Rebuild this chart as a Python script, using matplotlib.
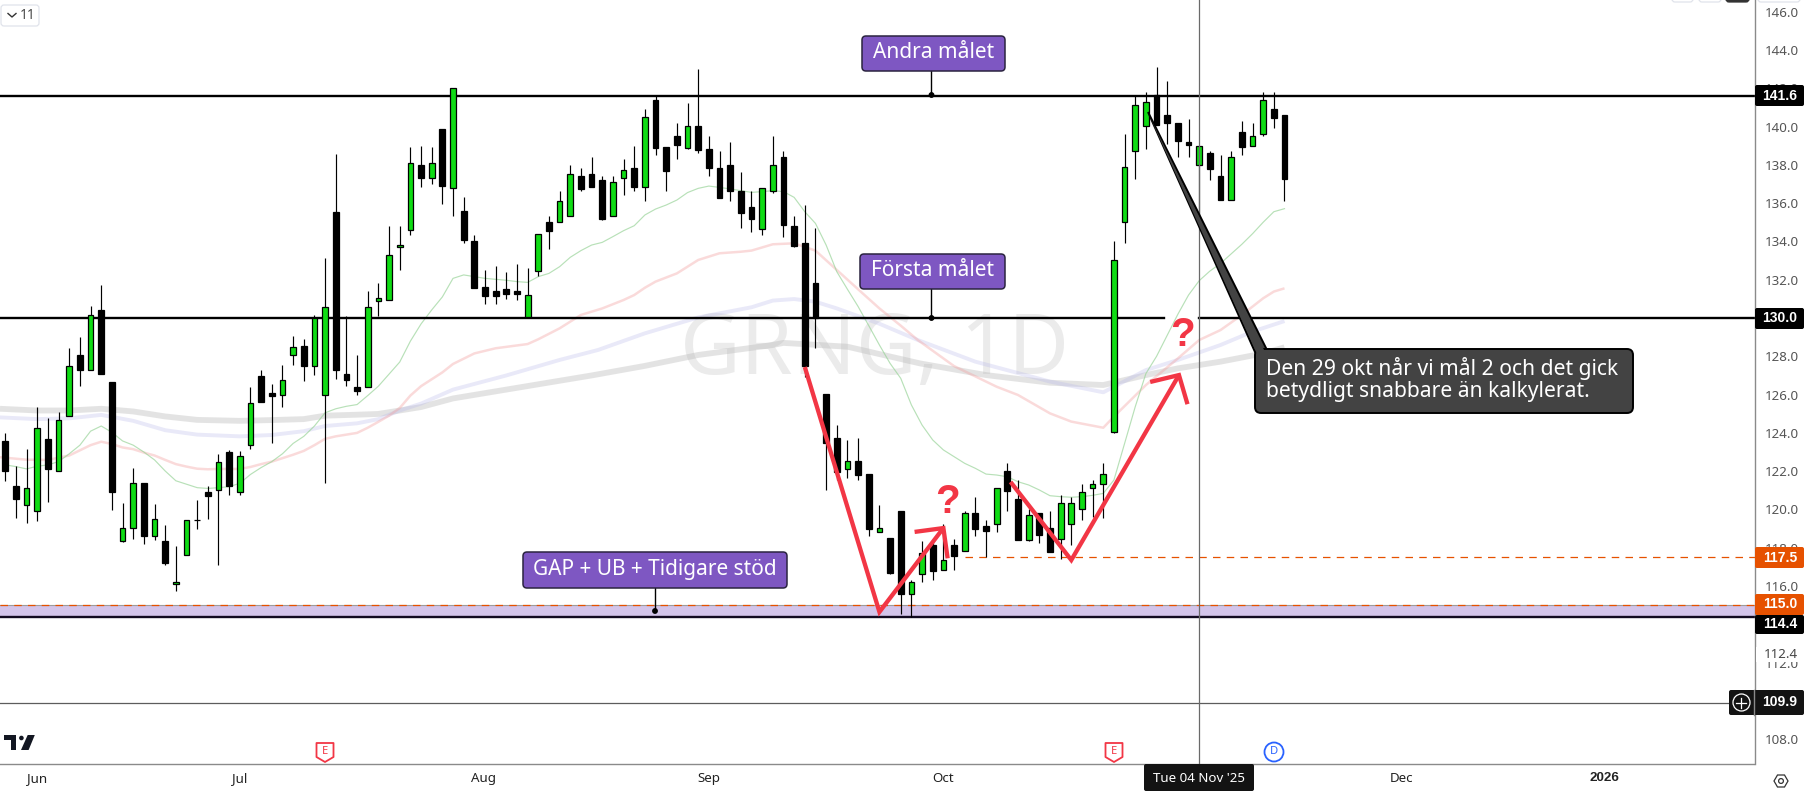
import matplotlib
matplotlib.use('Agg')
import matplotlib.pyplot as plt
from matplotlib.patches import FancyBboxPatch, Polygon, Circle, Rectangle

plt.rcParams['font.family'] = ['Noto Sans', 'DejaVu Sans']
BOLD = ['Liberation Sans', 'DejaVu Sans']

# daily candles, first one is index 0
opens = [123.58,121.25,120.25,119.93,123.67,122.03,124.86,128.08,127.29,130.40,
         126.67,118.35,119.04,121.37,118.63,118.37,116.09,117.63,119.43,120.92,
         121.03,122.98,120.92,123.35,126.98,126.09,125.97,128.07,128.52,127.49,
         125.97,135.55,127.09,126.40,126.38,130.90,130.96,133.69,134.57,137.99,
         137.31,139.86,136.77,135.59,134.02,131.62,131.41,131.51,131.41,130.07,
         132.47,135.01,135.00,135.31,137.42,137.52,137.21,135.31,137.29,137.83,
         136.86,141.38,138.93,139.50,138.88,140.03,138.83,137.83,137.99,136.63,
         135.80,134.66,136.65,138.41,134.80,133.92,131.83,126.03,123.73,122.10,
         122.53,121.85,118.81,118.51,119.92,115.60,116.61,118.15,116.82,118.15,
         117.82,119.82,119.14,119.23,122.01,120.55,118.41,119.82,119.03,118.44,
         119.23,120.01,121.11,121.31,124.03,135.00,138.70,140.01,141.64,140.58,
         140.17,139.17,137.97,138.60,137.42,136.18,139.71,138.96,139.59,140.91,140.58]
closes = [122.01,120.54,121.14,124.23,122.12,124.67,127.49,127.27,130.16,127.05,
          120.92,119.04,121.36,118.61,119.51,117.23,116.20,119.46,119.46,120.71,
          122.46,121.23,122.77,125.55,125.62,125.95,126.76,128.50,127.47,129.98,
          130.60,127.27,126.75,126.17,130.60,131.07,133.27,133.80,138.10,137.29,
          138.10,136.87,141.99,134.07,131.58,131.17,131.17,131.25,131.27,131.18,
          134.37,134.54,136.09,137.50,136.75,136.86,135.19,137.08,137.71,136.86,
          140.48,138.88,137.68,139.03,140.03,138.77,137.83,136.27,136.63,135.48,
          135.17,136.77,137.99,134.86,133.76,127.49,130.02,123.49,121.98,122.52,
          121.80,119.00,119.02,116.70,115.60,116.20,117.71,116.81,117.36,117.59,
          119.80,119.00,118.89,121.11,120.98,118.41,119.71,118.67,117.78,120.32,
          120.32,120.90,121.31,121.84,133.01,137.87,141.11,141.26,140.06,140.17,
          139.26,139.05,138.96,137.80,136.18,138.39,138.95,139.49,141.37,140.46,137.28]
highs = [124.00,122.26,123.15,125.35,124.77,125.10,128.41,128.99,130.61,131.72,
         126.67,120.36,122.15,121.37,120.27,119.17,118.07,119.46,120.47,121.25,
         122.89,123.13,123.06,126.40,127.31,126.56,127.56,129.08,128.88,130.18,
         133.13,138.54,130.09,128.08,131.39,131.81,134.81,134.81,138.95,139.00,
         138.95,139.86,141.99,136.32,134.33,132.51,132.72,132.40,132.82,132.61,
         134.37,135.33,136.63,137.99,137.83,138.41,137.42,137.42,138.30,138.98,
         140.90,141.64,138.93,140.18,141.23,143.00,139.50,138.72,139.19,137.62,
         136.63,136.77,139.50,138.72,135.33,135.90,134.70,126.03,124.41,123.63,
         123.73,121.85,120.23,118.51,119.92,116.32,118.35,118.35,119.24,118.46,
         119.91,120.65,119.45,121.11,122.43,121.54,120.03,119.82,119.92,120.76,
         120.65,121.33,121.54,122.43,134.02,139.61,141.65,141.78,143.11,142.38,
         140.17,140.39,138.96,138.72,138.51,138.72,140.29,140.18,141.78,141.78,140.58]
lows = [121.50,119.55,119.29,119.38,120.38,122.03,124.86,126.47,127.29,127.05,
        119.96,118.28,118.44,118.21,118.39,117.09,115.77,117.63,118.97,119.49,
        117.09,120.78,120.78,123.16,125.59,123.49,125.37,127.52,126.69,127.00,
        121.39,126.80,126.47,126.00,126.38,130.11,130.96,132.51,134.36,136.82,
        137.02,135.93,135.34,133.93,131.58,130.73,130.73,130.99,130.94,130.07,
        132.19,133.60,135.00,135.31,136.65,136.86,135.13,135.31,136.42,136.65,
        136.11,138.51,136.63,138.30,138.83,138.62,137.42,136.27,136.11,134.70,
        134.49,134.33,136.53,134.23,133.71,126.94,128.43,121.02,121.54,121.64,
        121.54,118.62,118.81,116.63,114.54,114.40,116.21,116.32,116.82,116.84,
        117.82,118.62,117.50,118.82,119.92,118.41,118.35,118.25,117.78,117.41,
        118.15,119.45,119.61,119.55,123.98,133.93,137.24,138.84,140.06,139.09,
        138.42,138.42,135.38,137.21,136.18,136.18,138.51,138.96,139.52,139.92,136.11]

ma_green = [122.33,122.24,122.12,122.26,122.33,122.50,122.91,123.36,124.09,124.36,
            124.03,123.58,123.36,123.00,122.59,122.01,121.50,121.32,121.14,121.10,
            121.14,121.19,121.37,121.83,122.19,122.50,122.91,123.45,123.82,124.36,
            125.05,125.26,125.39,125.48,125.95,126.44,127.07,127.70,128.79,129.69,
            130.42,131.10,132.07,132.25,132.16,132.07,132.02,131.97,131.90,131.86,
            132.16,132.33,132.68,133.17,133.52,133.81,133.95,134.25,134.56,134.82,
            135.38,135.69,135.90,136.16,136.55,136.77,136.89,136.82,136.74,136.65,
            136.56,136.60,136.65,136.60,136.30,135.55,134.94,133.81,132.42,131.50,
            130.60,129.60,128.59,127.63,126.85,125.46,124.41,123.63,123.11,122.76,
            122.41,122.15,121.85,121.80,121.71,121.45,121.28,121.02,120.72,120.67,
            120.64,120.67,120.74,120.84,121.54,123.45,125.37,127.10,128.00,129.10,
            130.20,131.20,131.95,132.45,132.85,133.35,133.85,134.40,135.00,135.55,135.71]
ma_red_x = [-0.5,2,4,6,7,8,9,10,11,12,13,14,15,16,17,18,19,20,22,23,24,25,26,27,28,29,30,31,32,33,
            34,35,36,37,38,39,40,41,42,44,46,49,50,52,54,56,58,59,60,61,63,65,67,69,70,72,74,76,78,
            80,82,84,85.6,89,93,95,98,100,103,104,107,110,112,114,116,118,119,120]
ma_red = [122.73,122.60,122.59,122.82,123.09,123.36,123.54,123.42,123.24,123.15,122.97,122.82,122.59,122.37,
          122.24,122.13,122.10,122.12,122.12,122.22,122.37,122.50,122.68,122.86,123.06,123.36,123.69,123.82,
          123.91,124.00,124.27,124.58,124.90,125.30,125.95,126.44,126.80,127.16,127.60,128.15,128.42,128.64,
          128.89,129.46,130.16,130.50,130.94,131.20,131.58,131.90,132.33,133.03,133.38,133.46,133.52,133.85,
          133.90,133.52,132.51,131.50,130.50,129.60,128.85,127.49,126.41,125.98,125.02,124.59,124.27,124.85,
          126.50,127.89,128.85,129.37,130.16,131.03,131.38,131.55]
ma_blue_x = [-0.5,3,6,9,12,15,18,22,25,28,30,33,35,37,39,42,47,52,55.6,60,65,70,72,74,76,78,82,85.6,91,98,103,107,110,114,117,120]
ma_blue = [124.81,124.72,124.76,124.94,124.63,124.14,123.91,123.82,123.89,124.09,124.36,124.50,124.72,125.17,
           125.53,126.26,127.00,127.81,128.33,129.20,130.03,130.56,130.91,130.99,130.85,130.50,129.70,128.85,
           127.72,126.68,126.12,127.28,127.81,128.59,129.29,129.84]
ma_grey_x = [-0.5,3,6,9,12,15,18,22,25,28,30,33,35,37,39,42,55,60,65,72,73,79,85.8,92,98,103,107,110,114,118,120]
ma_grey = [125.26,125.17,125.17,125.26,125.12,124.86,124.68,124.63,124.67,124.72,124.90,124.95,124.99,125.17,
           125.35,125.80,127.00,127.50,128.07,128.59,128.70,128.50,127.63,127.02,126.62,126.50,127.02,127.37,
           127.72,128.15,128.47]

price_ticks = [146,144,142,140,138,136,134,132,130,128,126,124,122,120,118,116,112,108]
month_ticks = [3,22,44.9,66,88,131,150]
month_labels = ['Jun','Jul','Aug','Sep','Oct','Dec','2026']

level_top = 141.6
level_mid = 130.0
zone_top = 115.0
zone_bot = 114.4
level_dash = 117.5
cross_price = 109.9
cross_day = 112

arrow1_x = [75.0,82.0,88.0]
arrow1_y = [127.44,114.65,119.03]
arrow1_hx = [85.3,88.0,88.4]
arrow1_hy = [118.83,119.03,117.45]
arrow2_x = [94.3,100.0,110.1]
arrow2_y = [121.44,117.36,127.02]
arrow2_hx = [107.4,110.1,110.9]
arrow2_hy = [126.66,127.02,125.5]

W, H = 1807, 794
fig = plt.figure(figsize=(W/100, H/100), dpi=100)
ax = fig.add_axes([0, 30/H, 1754.5/W, 764/H])
ax.set_xlim(-0.497, 164.09)
ax.set_ylim(106.71, 146.606)
ax.patch.set_alpha(0)

ax.yaxis.tick_right()
ax.set_yticks(price_ticks)
ax.set_yticklabels(['%.1f' % p for p in price_ticks], fontsize=9.6, color='#555555')
ax.tick_params(axis='y', length=0, pad=7.5)
ax.set_xticks(month_ticks)
ax.set_xticklabels(month_labels, fontsize=9.6, color='#222222')
ax.tick_params(axis='x', length=0, pad=5.5)
ax.get_xticklabels()[-1].set_fontweight('bold')
ax.get_xticklabels()[-1].set_family(BOLD)
for s in ['top', 'left']:
    ax.spines[s].set_visible(False)
for s in ['right', 'bottom']:
    ax.spines[s].set_color('#8a8a8a')
    ax.spines[s].set_linewidth(1)

# watermark
ax.text(81.5, 127.05, 'GRNG, 1D', fontsize=60, color='#ebebeb', ha='center', va='baseline', zorder=0.5)

# moving averages
ax.plot(ma_grey_x, ma_grey, color='#b4b4b4', lw=4.2, alpha=0.36, zorder=1, solid_capstyle='butt')
ax.plot(ma_blue_x, ma_blue, color='#b7b7ea', lw=2.8, alpha=0.3, zorder=1.1, solid_capstyle='butt')
ax.plot(ma_red_x, ma_red, color='#f2a0a0', lw=1.8, alpha=0.38, zorder=1.2, solid_capstyle='butt')
ax.plot(range(len(ma_green)), ma_green, color='#9ad49a', lw=0.85, alpha=0.7, zorder=1.3)

# levels
ax.axhspan(zone_bot, zone_top, color='#d3c4ea', lw=0, zorder=1.4)
ax.axhline(level_top, color='black', lw=1.7, zorder=1.5)
ax.plot([-1, 108.7], [level_mid, level_mid], color='black', lw=1.7, zorder=1.5)
ax.plot([cross_day, 170], [level_mid, level_mid], color='black', lw=1.7, zorder=1.5)
ax.axhline(zone_top, color='#9c9c9c', lw=0.8, zorder=1.5)
ax.axhline(zone_top, color='#e65100', lw=0.9, dashes=(6, 5), zorder=1.55)
ax.axhline(zone_bot, color='#120a20', lw=1.7, zorder=1.5)
ax.plot([90, 170], [level_dash, level_dash], color='#e65100', lw=0.9, dashes=(6, 5), zorder=1.5)

# candles
days = list(range(len(opens)))
ax.vlines(days, lows, highs, color='black', lw=0.85, zorder=2)
body_bot = [min(o, c) for o, c in zip(opens, closes)]
body_h = [abs(o - c) for o, c in zip(opens, closes)]
body_col = ['#0fdc14' if c >= o else 'black' for o, c in zip(opens, closes)]
ax.bar(days, body_h, bottom=body_bot, width=0.54, color=body_col, edgecolor='black', linewidth=0.9, zorder=3)

# crosshair
ax.axhline(cross_price, color='#5c5c5c', lw=0.9, zorder=4)
ax.axvline(cross_day, color='#6a6a6a', lw=0.9, zorder=4)

# drawn arrows
for xs, ys in [(arrow1_x, arrow1_y), (arrow1_hx, arrow1_hy), (arrow2_x, arrow2_y), (arrow2_hx, arrow2_hy)]:
    ax.plot(xs, ys, color='#f23645', lw=3.1, zorder=5, solid_joinstyle='miter', solid_capstyle='butt')
ax.text(88.4, 120.4, '?', color='#f23645', fontsize=29, fontweight='bold', family=BOLD, ha='center', va='center', zorder=5)
ax.text(110.4, 129.1, '?', color='#f23645', fontsize=29, fontweight='bold', family=BOLD, ha='center', va='center', zorder=5)

# everything below is screen furniture, drawn in pixels over the chart
ov = fig.add_axes([0, 0, 1, 1], zorder=10)
ov.set_xlim(0, W)
ov.set_ylim(H, 0)
ov.axis('off')
ov.patch.set_alpha(0)


def rbox(x0, y0, x1, y1, fc, ec='none', lw=0, r=3, z=6):
    p = FancyBboxPatch((x0 + r, y0 + r), x1 - x0 - 2*r, y1 - y0 - 2*r, boxstyle='round,pad=%g,rounding_size=%g' % (r, r),
                       fc=fc, ec=ec, lw=lw, zorder=z)
    ov.add_patch(p)


def note(x0, y0, x1, y1, dot_x, dot_y, label):
    ov.plot([dot_x, dot_x], [y1, dot_y], color='black', lw=1, zorder=5)
    ov.add_patch(Circle((dot_x, dot_y), 2.2, color='black', zorder=5))
    rbox(x0, y0, x1, y1, '#7e57c2', '#2b2440', 1.1, r=4)
    ov.text((x0 + x1)/2, (y0 + y1)/2 - 0.5, label, color='white', fontsize=15, ha='center', va='center', zorder=7)


def tag(y0, y1, label, fc):
    rbox(1755, y0, 1804, y1, fc, r=2)
    ov.text(1780, (y0 + y1)/2, label, color='white', fontsize=10, fontweight='bold', family=BOLD, ha='center', va='center', zorder=7)


note(862, 36, 1005, 71, 931.5, 95, 'Andra målet')
note(860, 254, 1005, 289, 931.5, 318, 'Första målet')
note(523, 552, 787, 588, 655, 611, 'GAP + UB + Tidigare stöd')

# speech bubble with its long tail
ov.add_patch(Polygon([(1148, 112), (1255, 352), (1268, 352)], fc='#434343', ec='black', lw=1.4, zorder=6))
rbox(1255, 349, 1633, 413, '#434343', 'black', 1.4, r=6)
ov.add_patch(Polygon([(1149, 115), (1257, 354), (1266, 354)], fc='#434343', ec='none', zorder=6.5))
ov.text(1266, 369, 'Den 29 okt når vi mål 2 och det gick', color='white', fontsize=15.2, va='center', zorder=7)
ov.text(1266, 392, 'betydligt snabbare än kalkylerat.', color='white', fontsize=15.2, va='center', zorder=7)

# price tags
tag(85, 106, '141.6', 'black')
tag(308, 329, '130.0', 'black')
tag(547, 568, '117.5', '#e65100')
tag(615, 634, '114.4', 'black')
tag(594, 615, '115.0', '#e65100')
ov.add_patch(Rectangle((1756, 647), 46, 15, fc='white', ec='none', zorder=6))
ov.text(1781, 655, '112.4', color='#444444', fontsize=9.6, ha='center', va='center', zorder=7)
rbox(1729, 690, 1804, 715, '#131313', r=2)
ov.plot([1754.5, 1754.5], [690, 715], color='#8a8a8a', lw=1, zorder=6.5)
ov.add_patch(Circle((1741.5, 702.5), 8.5, fc='none', ec='white', lw=0.9, zorder=7))
ov.plot([1736.5, 1746.5], [702.5, 702.5], color='white', lw=0.9, zorder=7)
ov.plot([1741.5, 1741.5], [697.5, 707.5], color='white', lw=0.9, zorder=7)
ov.text(1780, 702.5, '109.9', color='white', fontsize=10, fontweight='bold', family=BOLD, ha='center', va='center', zorder=7)

# crosshair date
rbox(1144, 764, 1254, 791, '#131313', r=2)
ov.text(1199, 778, "Tue 04 Nov '25", color='white', fontsize=9.6, ha='center', va='center', zorder=7)

# earnings and dividend markers
for cx in [325, 1114]:
    ov.add_patch(Polygon([(cx - 8.5, 743), (cx + 8.5, 743), (cx + 8.5, 757), (cx, 762), (cx - 8.5, 757)],
                         fc='white', ec='#f23645', lw=1.3, joinstyle='round', zorder=7))
    ov.text(cx, 751.5, 'E', color='#f23645', fontsize=8, ha='center', va='center', zorder=8)
ov.add_patch(Circle((1274, 752), 9.5, fc='white', ec='#2962ff', lw=1.3, zorder=7))
ov.text(1274, 752, 'D', color='#2962ff', fontsize=8, ha='center', va='center', zorder=8)

# logo
ov.add_patch(Polygon([(4.5, 735), (15.6, 735), (15.6, 750), (10.7, 750), (10.7, 739.5), (4.5, 739.5)], fc='#131722', ec='none', zorder=7))
ov.add_patch(Circle((21.4, 738), 2.3, fc='#131722', ec='none', zorder=7))
ov.add_patch(Polygon([(27.7, 735), (34.8, 735), (28.6, 750), (21, 750)], fc='#131722', ec='none', zorder=7))

# scale settings hexagon
ov.add_patch(Polygon([(1774, 781), (1777.5, 775), (1784.5, 775), (1788, 781), (1784.5, 787), (1777.5, 787)],
                     fc='none', ec='#333333', lw=0.9, zorder=7))
ov.add_patch(Circle((1781, 781), 2.4, fc='none', ec='#333333', lw=0.9, zorder=7))

# collapsed indicator button
rbox(1, 5, 39, 26, 'white', '#e0e3eb', 0.9, r=3)
ov.plot([8, 12, 16], [13.5, 17, 13.5], color='#333333', lw=1, zorder=7)
ov.text(28, 15.5, '11', color='#444444', fontsize=10, ha='center', va='center', zorder=7)

# buttons cut off by the top edge
rbox(1672, -8, 1693, 2, 'white', '#e0e3eb', 0.9)
rbox(1699, -8, 1721, 2, 'white', '#e0e3eb', 0.9)
rbox(1726, -8, 1749, 2, '#333333', '#333333', 0.9)
rbox(1758, -8, 1800, 2, 'white', '#e0e3eb', 0.9)

fig.savefig('out.png', dpi=100)
